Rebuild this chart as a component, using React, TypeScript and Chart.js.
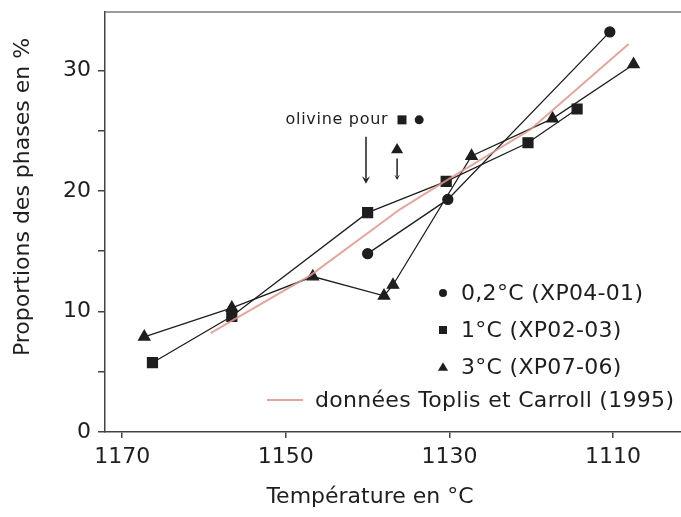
import React, { useEffect, useRef } from 'react';
import { Chart, registerables } from 'chart.js';

Chart.register(...registerables);

// ---- data ----
const xTickValues = [1170, 1150, 1130, 1110];
const yTickValues = [0, 5, 10, 15, 20, 25, 30];

const circleT = [1140.0, 1130.2, 1110.4];
const circleP = [14.8, 19.3, 33.2];

const squareT = [1166.3, 1156.6, 1140.0, 1130.4, 1120.4, 1114.4];
const squareP = [5.75, 9.6, 18.2, 20.8, 24.0, 26.8];

const triangleT = [1167.3, 1156.6, 1146.7, 1138.0, 1136.9, 1127.3, 1117.4, 1107.5];
const triangleP = [7.9, 10.3, 12.9, 11.3, 12.2, 22.9, 26.0, 30.5];

const toplisT = [1159.2, 1147.0, 1136.0, 1130.3, 1120.1, 1108.1];
const toplisP = [8.2, 13.0, 18.5, 20.9, 25.1, 32.2];

const seriesLabels = ['0,2°C (XP04-01)', '1°C (XP02-03)', '3°C (XP07-06)', 'données Toplis et Carroll (1995)'];
const xTitle = 'Température en °C';
const yTitle = 'Proportions des phases en %';

// annotation "olivine pour" (in data units)
const noteText = 'olivine pour';
const noteTextAt = [1137.6, 25.9];
const noteSquareAt = [1135.8, 25.9];
const noteCircleAt = [1133.7, 25.9];
const arrow1 = [1140.2, 24.5, 20.6];
const noteTriangleAt = [1136.4, 23.5];
const arrow2 = [1136.4, 22.7, 20.9];

const FONT = '"DejaVu Sans", sans-serif';
const INK = '#1e1e1e';
const PINK = 'rgba(222,150,140,0.85)';

function zip(t: number[], p: number[]) {
  return t.map((v, i) => ({ x: v, y: p[i] }));
}

function drawMarker(ctx: CanvasRenderingContext2D, kind: string, x: number, y: number, s: number) {
  ctx.beginPath();
  if (kind === 'circle') {
    ctx.arc(x, y, s, 0, Math.PI * 2);
  } else if (kind === 'rect') {
    ctx.rect(x - s, y - s, 2 * s, 2 * s);
  } else {
    ctx.moveTo(x, y - s * 1.05);
    ctx.lineTo(x + s * 1.1, y + s * 0.8);
    ctx.lineTo(x - s * 1.1, y + s * 0.8);
    ctx.closePath();
  }
  ctx.fill();
}

function drawArrow(ctx: CanvasRenderingContext2D, x: number, y0: number, y1: number, head: number) {
  ctx.beginPath();
  ctx.moveTo(x, y0);
  ctx.lineTo(x, y1 - head);
  ctx.stroke();
  ctx.beginPath();
  ctx.moveTo(x - head * 0.8, y1 - head * 1.5);
  ctx.lineTo(x, y1);
  ctx.lineTo(x + head * 0.8, y1 - head * 1.5);
  ctx.lineTo(x, y1 - head * 0.9);
  ctx.closePath();
  ctx.fill();
}

const overlay = {
  id: 'overlay',
  afterDraw(chart: any) {
    const { ctx, chartArea: a, scales } = chart;
    const xs = scales.x;
    const ys = scales.y;
    ctx.save();
    // top frame
    ctx.strokeStyle = '#7a7a7a';
    ctx.lineWidth = 1.5;
    ctx.beginPath();
    ctx.moveTo(a.left, a.top);
    ctx.lineTo(a.right, a.top);
    ctx.stroke();

    ctx.fillStyle = INK;
    ctx.strokeStyle = INK;
    // axis titles
    ctx.font = `22px ${FONT}`;
    ctx.textAlign = 'center';
    ctx.textBaseline = 'middle';
    ctx.fillText(xTitle, 370, 497);
    ctx.save();
    ctx.translate(23, 197);
    ctx.rotate(-Math.PI / 2);
    ctx.fillText(yTitle, 0, 0);
    ctx.restore();

    // legend
    const kinds = ['circle', 'rect', 'triangle'];
    const rows = [293, 330, 367];
    ctx.font = `22px ${FONT}`;
    ctx.textAlign = 'left';
    (ctx as any).letterSpacing = '0.3px';
    for (let i = 0; i < 3; i++) {
      drawMarker(ctx, kinds[i], 443, rows[i], kinds[i] === 'triangle' ? 4.6 : 4);
      ctx.fillText(seriesLabels[i], 461, rows[i] + 1);
    }
    ctx.strokeStyle = PINK;
    ctx.lineWidth = 2;
    ctx.beginPath();
    ctx.moveTo(267, 400);
    ctx.lineTo(303, 400);
    ctx.stroke();
    ctx.fillText(seriesLabels[3], 315, 401);

    // annotation
    ctx.strokeStyle = INK;
    ctx.lineWidth = 1.5;
    ctx.font = `16px ${FONT}`;
    (ctx as any).letterSpacing = '0.7px';
    ctx.textAlign = 'right';
    ctx.fillText(noteText, xs.getPixelForValue(noteTextAt[0]) + 1, ys.getPixelForValue(noteTextAt[1]));
    (ctx as any).letterSpacing = '0px';
    drawMarker(ctx, 'rect', xs.getPixelForValue(noteSquareAt[0]), ys.getPixelForValue(noteSquareAt[1]), 4.5);
    drawMarker(ctx, 'circle', xs.getPixelForValue(noteCircleAt[0]), ys.getPixelForValue(noteCircleAt[1]), 4.5);
    drawMarker(ctx, 'triangle', xs.getPixelForValue(noteTriangleAt[0]), ys.getPixelForValue(noteTriangleAt[1]), 5.5);
    drawArrow(ctx, xs.getPixelForValue(arrow1[0]), ys.getPixelForValue(arrow1[1]), ys.getPixelForValue(arrow1[2]), 5);
    drawArrow(ctx, xs.getPixelForValue(arrow2[0]), ys.getPixelForValue(arrow2[1]), ys.getPixelForValue(arrow2[2]), 3.5);
    ctx.restore();
  },
};

export default function App() {
  const ref = useRef<HTMLCanvasElement>(null);
  useEffect(() => {
    document.body.style.margin = '0';
    const chart = new Chart(ref.current as HTMLCanvasElement, {
      type: 'line',
      data: {
        datasets: [
          {
            label: seriesLabels[3],
            data: zip(toplisT, toplisP),
            borderColor: PINK,
            borderWidth: 2,
            pointRadius: 0,
            order: 0,
          },
          {
            label: seriesLabels[0],
            data: zip(circleT, circleP),
            borderColor: INK,
            backgroundColor: INK,
            borderWidth: 1.3,
            pointStyle: 'circle',
            pointRadius: 5,
            order: 1,
          },
          {
            label: seriesLabels[1],
            data: zip(squareT, squareP),
            borderColor: INK,
            backgroundColor: INK,
            borderWidth: 1.3,
            pointStyle: 'rect',
            pointRadius: 7,
            order: 1,
          },
          {
            label: seriesLabels[2],
            data: zip(triangleT, triangleP),
            borderColor: INK,
            backgroundColor: INK,
            borderWidth: 1.3,
            pointStyle: 'triangle',
            pointRadius: 6.5,
            order: 1,
          },
        ],
      },
      options: {
        animation: false,
        responsive: false,
        layout: { autoPadding: false, padding: { top: 12, right: 0, left: 0, bottom: 0 } },
        plugins: { legend: { display: false }, tooltip: { enabled: false } },
        scales: {
          x: {
            type: 'linear',
            reverse: true,
            min: 1101.7,
            max: 1172.1,
            afterBuildTicks: (s: any) => {
              s.ticks = xTickValues.map((v) => ({ value: v }));
            },
            afterFit: (s: any) => {
              s.height = 85;
              s.paddingLeft = 0;
              s.paddingRight = 0;
            },
            grid: { drawOnChartArea: false, drawTicks: true, tickLength: 6, color: '#444', lineWidth: 1.5 },
            border: { display: true, color: '#444', width: 1.5 },
            ticks: {
              color: INK,
              padding: 6,
              font: { family: FONT, size: 22 },
              callback: (v: any) => String(v),
            },
          },
          y: {
            type: 'linear',
            min: 0,
            max: 34.85,
            afterBuildTicks: (s: any) => {
              s.ticks = yTickValues.map((v) => ({ value: v }));
            },
            afterFit: (s: any) => {
              s.width = 105;
              s.paddingTop = 0;
              s.paddingBottom = 0;
            },
            grid: { drawOnChartArea: false, drawTicks: true, tickLength: 7, color: '#444', lineWidth: 1.5 },
            border: { display: true, color: '#444', width: 1.5 },
            ticks: {
              color: INK,
              padding: 7,
              font: { family: FONT, size: 22 },
              callback: (v: any) => (Number(v) % 10 === 0 ? String(v) : ''),
            },
          },
        },
      },
      plugins: [overlay],
    } as any);
    return () => chart.destroy();
  }, []);
  return (
    <div style={{ width: 681, height: 517 }}>
      <canvas ref={ref} width={681} height={517} style={{ display: 'block' }} />
    </div>
  );
}
